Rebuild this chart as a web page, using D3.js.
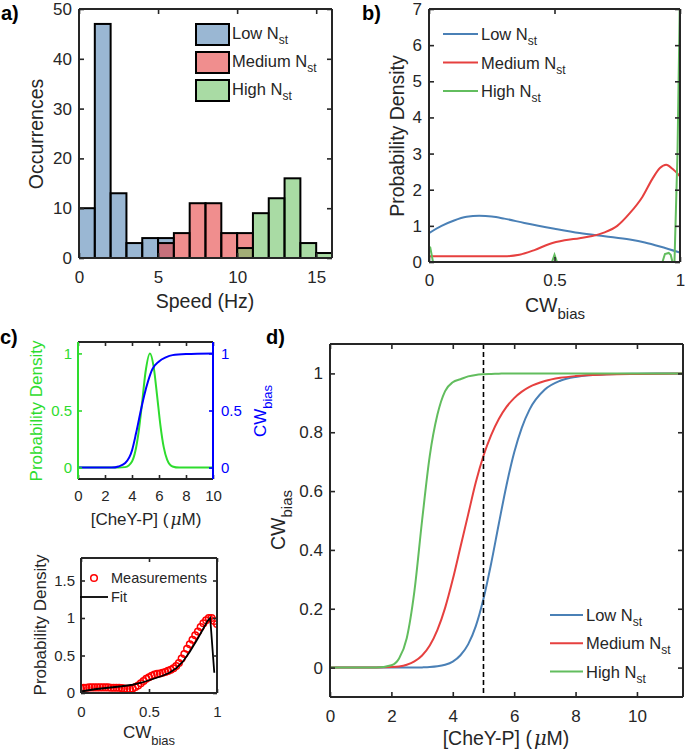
<!DOCTYPE html>
<html><head><meta charset="utf-8">
<script src="https://cdn.jsdelivr.net/npm/d3@7"></script>
<style>
body{margin:0;background:#fff}
svg{display:block}
text{font-family:"Liberation Sans",Arial,Helvetica,sans-serif;fill:#262626}
</style>
</head><body>
<svg id="fig" width="685" height="752"></svg>
<script>
// ---------------- DATA ----------------
// Panel a: histogram of speeds (bin left edges, width 1 Hz)
const speedBinLeft = [0,1,2,3,4,5,6,7,8,9,10,11,12,13,14,15];
const lowCounts    = [10,47,13,3,4,4,0,0,0,0,0,0,0,0,0,0];
const mediumCounts = [0,0,0,0,0,3,5,11,11,5,5,0,0,0,0,0];
const highCounts   = [0,0,0,0,0,0,0,0,0,0,2,9,12,16,3,1];
const histTicksX = [0,5,10,15];
const histTicksY = [0,10,20,30,40,50];

// Panel b: probability density of CW bias
const pdLowX  = [0,0.05,0.1,0.15,0.2,0.25,0.3,0.38,0.5,0.6,0.7,0.8,0.86,0.92,1.0];
const pdLowY  = [0.8,1.0,1.15,1.25,1.28,1.26,1.2,1.08,0.92,0.8,0.71,0.62,0.54,0.43,0.26];
const pdMedX  = [0,0.1,0.2,0.3,0.36,0.42,0.48,0.54,0.6,0.65,0.7,0.75,0.8,0.85,0.89,0.92,0.945,0.97,1.0];
const pdMedY  = [0.16,0.16,0.16,0.16,0.2,0.33,0.5,0.6,0.66,0.72,0.82,1.0,1.35,1.8,2.3,2.6,2.69,2.58,2.37];
const pdHighX = [0,0.005,0.016,0.49,0.5,0.51,0.93,0.94,0.955,0.963,0.97,0.978,0.99,1.0];
const pdHighY = [0.43,0.4,0,0,0.2,0,0,0.22,0.25,0.2,0,0,3,7.5];
const pdTicksX = [0,0.5,1];
const pdTicksY = [0,1,2,3,4,5,6,7];

// Panel c (top): CheY-P distribution and CW bias response
const cheyX    = [0,3,3.5,4,4.25,4.5,4.75,5,5.33,5.6,5.85,6.1,6.35,6.6,7,7.5,10];
const cheyPD   = [0,0,0.004,0.054,0.145,0.32,0.57,0.835,1,0.886,0.64,0.375,0.179,0.07,0.01,0,0];
const cwRespX  = [0,2.5,3,3.5,4,4.3,4.6,4.9,5.2,5.5,6,6.5,7,8,10];
const cwRespY  = [0,0,0.01,0.04,0.15,0.3,0.47,0.63,0.76,0.86,0.93,0.965,0.985,0.995,1];
const cTopTicksX = [0,2,4,6,8,10];
const cTopTicksY = [0,0.5,1];

// Panel c (bottom): measured vs fitted CW bias density
const measX = [0,0.02,0.04,0.06,0.08,0.1,0.12,0.14,0.16,0.18,0.2,0.22,0.24,0.26,0.28,0.3,0.32,0.34,0.36,0.38,0.4,0.42,0.44,0.46,0.48,0.5,0.52,0.54,0.56,0.58,0.6,0.62,0.64,0.66,0.68,0.7,0.72,0.74,0.76,0.78,0.8,0.82,0.84,0.86,0.88,0.9,0.92,0.94,0.96,0.98,1.0];
const measY = [0.06,0.07,0.07,0.075,0.075,0.075,0.075,0.075,0.075,0.075,0.075,0.07,0.07,0.07,0.07,0.065,0.06,0.055,0.055,0.06,0.08,0.1,0.13,0.16,0.19,0.21,0.23,0.245,0.255,0.26,0.27,0.28,0.295,0.31,0.33,0.36,0.4,0.46,0.52,0.59,0.65,0.71,0.77,0.82,0.88,0.93,0.97,1.0,1.0,0.96,0.92];
const fitX = [0,0.1,0.2,0.3,0.38,0.45,0.5,0.55,0.6,0.65,0.7,0.75,0.8,0.85,0.9,0.93,0.95,0.98];
const fitY = [0.02,0.05,0.07,0.09,0.11,0.14,0.17,0.2,0.23,0.27,0.33,0.42,0.55,0.7,0.86,0.96,1.0,0.27];
const cBotTicksX = [0,0.5,1];
const cBotTicksY = [0,0.5,1,1.5];

// Panel d: CW bias vs [CheY-P]
const dX    = [0,1,1.5,2,2.25,2.5,2.75,3,3.25,3.5,3.75,4,4.25,4.5,4.75,5,5.25,5.5,5.75,6,6.25,6.5,7,7.5,8,9,10,11.5];
const dLow  = [0,0,0,0,0,0.0001,0.0002,0.0007,0.0017,0.0042,0.0097,0.0205,0.042,0.079,0.141,0.234,0.354,0.489,0.62,0.731,0.816,0.877,0.945,0.975,0.988,0.997,0.999,1];
const dMed  = [0,0,0.0002,0.0017,0.004,0.0098,0.021,0.041,0.075,0.128,0.203,0.3,0.41,0.52,0.63,0.72,0.79,0.845,0.886,0.916,0.938,0.954,0.974,0.985,0.991,0.996,0.998,0.9995];
const dHigh = [0,0,0.0002,0.008,0.031,0.1,0.26,0.5,0.72,0.86,0.94,0.97,0.98,0.99,0.995,0.997,0.998,0.999,1,1,1,1,1,1,1,1,1,1];
const dTicksX = [0,2,4,6,8,10];
const dTicksY = [0,0.2,0.4,0.6,0.8,1];
const dRefX = 5;

const seriesNames = ["Low", "Medium", "High"];

// ---------------- STYLE ----------------
const AX = "#262626";
const histFill = ["rgb(87,135,182)", "rgb(230,67,67)", "rgb(112,195,103)"];
const lineCol  = ["#4a80b6", "#e6403f", "#62bd5e"];
const cGreen = "#2edc2e", cBlue = "#0000ff";

const svg = d3.select("#fig");
const defs = svg.append("defs");
let clipId = 0;
function clip(x, y) {
  const id = "clip" + (clipId++);
  const [L, R] = x.range(), [B, T] = y.range();
  defs.append("clipPath").attr("id", id).append("rect")
    .attr("x", L).attr("y", T).attr("width", R - L).attr("height", B - T);
  return "url(#" + id + ")";
}
const fmt = d => String(+(+d).toFixed(2));

function styleAxis(g, fs, col) {
  g.select(".domain").remove();
  g.attr("font-family", null).attr("font-size", null);
  g.selectAll(".tick line").attr("stroke", col || AX).attr("stroke-width", 1.6);
  g.selectAll(".tick text").attr("font-size", fs).style("fill", col || AX);
}

function axesFrame(g, x, y, o) {
  const [L, R] = x.range(), [B, T] = y.range();
  const tl = o.tl || 5;
  const bx = g.append("g").attr("transform", `translate(0,${B})`)
    .call(d3.axisBottom(x).tickValues(o.xt).tickSize(-tl).tickPadding(o.xpad).tickFormat(fmt));
  styleAxis(bx, o.fs);
  const tx = g.append("g").attr("transform", `translate(0,${T})`)
    .call(d3.axisTop(x).tickValues(o.xt).tickSize(-tl).tickFormat(""));
  styleAxis(tx, o.fs);
  const lc = o.leftCol || AX, rc = o.rightCol || AX;
  const ly = g.append("g").attr("transform", `translate(${L},0)`)
    .call(d3.axisLeft(y).tickValues(o.yt).tickSize(-tl).tickPadding(o.ypad).tickFormat(fmt));
  styleAxis(ly, o.fs, lc);
  const ry = g.append("g").attr("transform", `translate(${R},0)`)
    .call(d3.axisRight(o.y2 || y).tickValues(o.yt2 || o.yt).tickSize(-tl).tickPadding(o.ypad2 || 8)
      .tickFormat(o.rightLabels ? fmt : ""));
  styleAxis(ry, o.fs, rc);
  // box
  g.append("line").attr("x1", L).attr("x2", R).attr("y1", T).attr("y2", T).attr("stroke", AX).attr("stroke-width", 2);
  g.append("line").attr("x1", L).attr("x2", R).attr("y1", B).attr("y2", B).attr("stroke", AX).attr("stroke-width", 2);
  g.append("line").attr("x1", L).attr("x2", L).attr("y1", T).attr("y2", B).attr("stroke", lc).attr("stroke-width", 2);
  g.append("line").attr("x1", R).attr("x2", R).attr("y1", T).attr("y2", B).attr("stroke", rc).attr("stroke-width", 2);
}

function subText(g, x, y, main, sub, fs, sfs, dy, anchor, col) {
  const t = g.append("text").attr("x", x).attr("y", y).attr("font-size", fs)
    .attr("text-anchor", anchor || "start");
  if (col) t.style("fill", col);
  t.append("tspan").text(main);
  t.append("tspan").attr("font-size", sfs).attr("dy", dy).text(sub);
  return t;
}
function yLabel(g, x, y, fs, col) {
  const t = g.append("g").attr("transform", `translate(${x},${y}) rotate(-90)`)
    .append("text").attr("text-anchor", "middle").attr("font-size", fs);
  if (col) t.style("fill", col);
  return t;
}
function cheyLabel(g, x, y, fs) {
  const t = g.append("text").attr("x", x).attr("y", y).attr("text-anchor", "middle").attr("font-size", fs);
  t.append("tspan").text("[CheY-P] (");
  t.append("tspan").attr("dx", 2).attr("font-family", "DejaVu Serif, serif").attr("font-style", "italic").text("μ");
  t.append("tspan").text("M)");
}
function panelLabel(x, y, s) {
  svg.append("text").attr("x", x).attr("y", y).attr("font-size", 20).attr("font-weight", "bold")
    .style("fill", "#000").text(s);
}

// ---------------- PANEL A ----------------
{
  const g = svg.append("g");
  const x = d3.scaleLinear().domain([0, 16]).range([79, 332]);
  const y = d3.scaleLinear().domain([0, 50]).range([258, 9]);
  const pg = g.append("g").attr("clip-path", clip(x, y));
  [lowCounts, mediumCounts, highCounts].forEach((counts, si) => {
    pg.selectAll(null).data(speedBinLeft.map((b, i) => ({b, c: counts[i]})).filter(d => d.c > 0))
      .join("rect")
      .attr("x", d => x(d.b)).attr("width", d => x(d.b + 1) - x(d.b))
      .attr("y", d => y(d.c)).attr("height", d => y(0) - y(d.c))
      .attr("fill", histFill[si]).attr("fill-opacity", 0.6)
      .attr("stroke", "#000").attr("stroke-width", 2);
  });
  axesFrame(g, x, y, {xt: histTicksX, yt: histTicksY, fs: 17, xpad: 13, ypad: 7});
  yLabel(g, 43, 134, 19.5).text("Occurrences");
  g.append("text").attr("x", 205).attr("y", 308).attr("text-anchor", "middle").attr("font-size", 19.5).text("Speed (Hz)");
  // legend
  seriesNames.forEach((n, i) => {
    const yy = 24 + i * 28;
    g.append("rect").attr("x", 196).attr("y", yy).attr("width", 33).attr("height", 21)
      .attr("fill", histFill[i]).attr("fill-opacity", 0.6).attr("stroke", "#000").attr("stroke-width", 2);
    subText(g, 232, yy + 15, n + " N", "st", 16.5, 12, 5);
  });
  panelLabel(1, 20, "a)");
}

// ---------------- PANEL B ----------------
{
  const g = svg.append("g");
  const x = d3.scaleLinear().domain([0, 1]).range([429, 680]);
  const y = d3.scaleLinear().domain([0, 7]).range([262, 9]);
  const pg = g.append("g").attr("clip-path", clip(x, y));
  const sets = [[pdLowX, pdLowY, d3.curveMonotoneX], [pdMedX, pdMedY, d3.curveMonotoneX], [pdHighX, pdHighY, d3.curveLinear]];
  sets.forEach(([xs, ys, cv], i) => {
    const line = d3.line().x(d => x(d[0])).y(d => y(d[1])).curve(cv);
    pg.append("path").attr("d", line(xs.map((v, k) => [v, ys[k]])))
      .attr("fill", "none").attr("stroke", lineCol[i]).attr("stroke-width", 2);
  });
  axesFrame(g, x, y, {xt: pdTicksX, yt: pdTicksY, fs: 17, xpad: 12, ypad: 7});
  yLabel(g, 404, 136, 19.5).text("Probability Density");
  subText(g, 555, 312, "CW", "bias", 19.5, 15, 7, "middle");
  seriesNames.forEach((n, i) => {
    const yy = 34 + i * 28.5;
    g.append("line").attr("x1", 443).attr("x2", 478).attr("y1", yy).attr("y2", yy)
      .attr("stroke", lineCol[i]).attr("stroke-width", 2);
    subText(g, 481, yy + 6, n + " N", "st", 16.5, 12, 5);
  });
  panelLabel(362, 20, "b)");
}

// ---------------- PANEL C (top) ----------------
{
  const g = svg.append("g");
  const x = d3.scaleLinear().domain([0, 10]).range([78, 213]);
  const y = d3.scaleLinear().domain([-0.1, 1.1]).range([479, 342]);
  const pg = g.append("g").attr("clip-path", clip(x, y));
  const line = d3.line().x(d => x(d[0])).y(d => y(d[1])).curve(d3.curveMonotoneX);
  pg.append("path").attr("d", line(cheyX.map((v, k) => [v, cheyPD[k]])))
    .attr("fill", "none").attr("stroke", cGreen).attr("stroke-width", 2);
  pg.append("path").attr("d", line(cwRespX.map((v, k) => [v, cwRespY[k]])))
    .attr("fill", "none").attr("stroke", cBlue).attr("stroke-width", 2);
  axesFrame(g, x, y, {xt: cTopTicksX, yt: cTopTicksY, fs: 15, xpad: 11, ypad: 6,
    leftCol: cGreen, rightCol: cBlue, rightLabels: true, ypad2: 8, tl: 4});
  yLabel(g, 42, 411, 17, cGreen).text("Probability Density");
  const rl = g.append("g").attr("transform", "translate(266,411) rotate(-90)")
    .append("text").attr("text-anchor", "middle").attr("font-size", 17).style("fill", cBlue);
  rl.append("tspan").text("CW");
  rl.append("tspan").attr("font-size", 13).attr("dy", 6).text("bias");
  cheyLabel(g, 146, 525, 17);
  panelLabel(0, 344, "c)");
}

// ---------------- PANEL C (bottom) ----------------
{
  const g = svg.append("g");
  const x = d3.scaleLinear().domain([0, 1]).range([81, 217]);
  const y = d3.scaleLinear().domain([0, 1.8]).range([693, 558]);
  const pg = g.append("g").attr("clip-path", clip(x, y));
  const line = d3.line().x(d => x(d[0])).y(d => y(d[1]));
  pg.selectAll(null).data(measX.map((v, k) => [v, measY[k]])).join("circle")
    .attr("cx", d => x(d[0])).attr("cy", d => y(d[1])).attr("r", 3.3)
    .attr("fill", "none").attr("stroke", "#ff0000").attr("stroke-width", 1.5);
  g.append("path").attr("d", line(fitX.map((v, k) => [v, fitY[k]])))
    .attr("fill", "none").attr("stroke", "#000").attr("stroke-width", 1.8);
  axesFrame(g, x, y, {xt: cBotTicksX, yt: cBotTicksY, fs: 15, xpad: 13, ypad: 6, tl: 4});
  yLabel(g, 46, 625, 17).text("Probability Density");
  subText(g, 149, 738, "CW", "bias", 17, 13, 7, "middle");
  // legend
  g.append("circle").attr("cx", 94).attr("cy", 578).attr("r", 3.3)
    .attr("fill", "none").attr("stroke", "#ff0000").attr("stroke-width", 1.5);
  g.append("text").attr("x", 111).attr("y", 583).attr("font-size", 14.5).text("Measurements");
  g.append("line").attr("x1", 80).attr("x2", 108).attr("y1", 597).attr("y2", 597)
    .attr("stroke", "#000").attr("stroke-width", 1.8);
  g.append("text").attr("x", 111).attr("y", 602).attr("font-size", 14.5).text("Fit");
}

// ---------------- PANEL D ----------------
{
  const g = svg.append("g");
  const x = d3.scaleLinear().domain([0, 11.5]).range([330, 683]);
  const y = d3.scaleLinear().domain([-0.1, 1.1]).range([697, 344]);
  const pg = g.append("g").attr("clip-path", clip(x, y));
  const line = d3.line().x(d => x(d[0])).y(d => y(d[1])).curve(d3.curveMonotoneX);
  [dLow, dMed, dHigh].forEach((ys, i) => {
    pg.append("path").attr("d", line(dX.map((v, k) => [v, ys[k]])))
      .attr("fill", "none").attr("stroke", lineCol[i]).attr("stroke-width", 2);
  });
  pg.append("line").attr("x1", x(dRefX)).attr("x2", x(dRefX)).attr("y1", y.range()[1]).attr("y2", y.range()[0])
    .attr("stroke", "#000").attr("stroke-width", 1.6).attr("stroke-dasharray", "5,3");
  axesFrame(g, x, y, {xt: dTicksX, yt: dTicksY, fs: 17, xpad: 12.5, ypad: 7});
  const yl = g.append("g").attr("transform", "translate(285,520) rotate(-90)")
    .append("text").attr("text-anchor", "middle").attr("font-size", 19.5);
  yl.append("tspan").text("CW");
  yl.append("tspan").attr("font-size", 15).attr("dy", 7).text("bias");
  cheyLabel(g, 506, 745, 19.5);
  seriesNames.forEach((n, i) => {
    const yy = 615 + i * 28.3;
    g.append("line").attr("x1", 550).attr("x2", 583).attr("y1", yy).attr("y2", yy)
      .attr("stroke", lineCol[i]).attr("stroke-width", 2);
    subText(g, 586, yy + 6, n + " N", "st", 16.5, 12, 5);
  });
  panelLabel(266, 344, "d)");
}
</script>
</body></html>
